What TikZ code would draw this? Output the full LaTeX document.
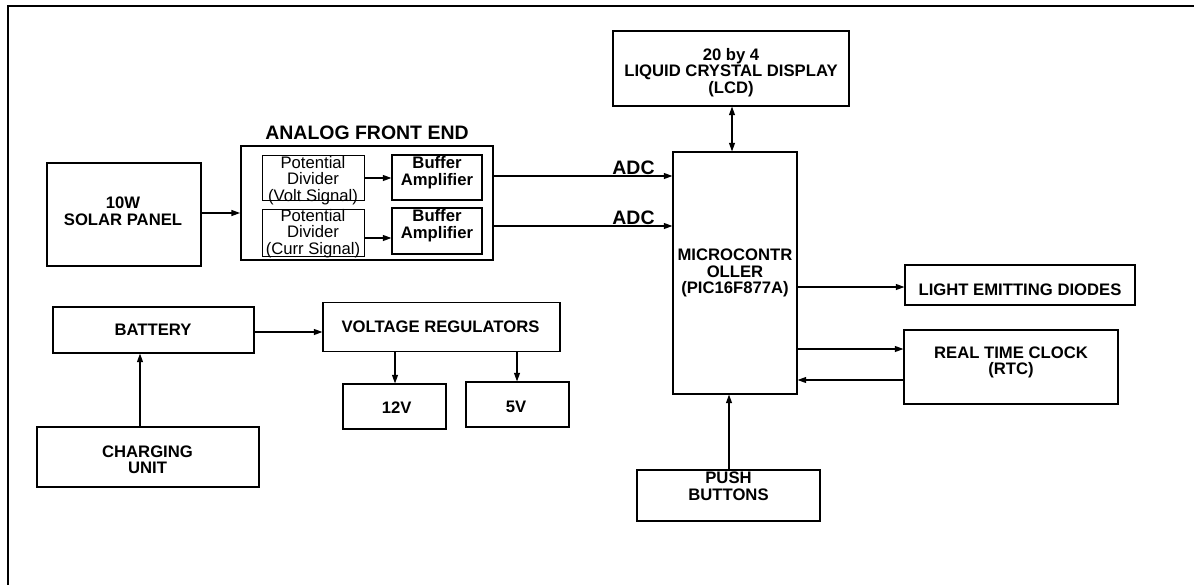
\documentclass[tikz,border=0pt]{standalone}
\usepackage{fontspec}
\setmainfont{Liberation Sans}
\usetikzlibrary{arrows.meta}
\tikzset{
  bx/.style={draw, line width=0.85pt, inner sep=0pt},
  sz/.style 2 args={minimum width=#1*0.75pt, minimum height=#2*0.75pt},
  tx/.style={align=center, inner sep=0pt, font=\fontsize{12.5}{12.5}\selectfont\bfseries},
  txr/.style={align=center, inner sep=0pt, font=\fontsize{12.5}{12.6}\selectfont},
  big/.style={font=\fontsize{14.6}{15}\selectfont\bfseries},
  arr/.style={line width=0.9pt, -{Triangle[length=6.5pt,width=4.5pt]}},
  arrb/.style={line width=0.9pt, {Triangle[length=6.5pt,width=4.5pt]}-{Triangle[length=6.5pt,width=4.5pt]}},
}
\begin{document}
\begin{tikzpicture}[x=0.75pt,y=-0.75pt]
\useasboundingbox (0,0) rectangle (1194,585);
\draw[line width=2pt] (1194,6) -- (8,6) -- (8,585);

% solar panel
\node[bx,sz={154}{103}] (solar) at (124,214.5) {};
\node[tx] (solarT) at (123,211) {10W\\SOLAR PANEL};

% analog front end
\node[bx,line width=1.4pt,sz={252}{114}] (afe) at (367,203) {};
\node[tx,big] (afeT) at (367,133) {ANALOG FRONT END};
\node[bx,line width=0.6pt,sz={102}{45}] (pd1) at (313,177.5) {};
\node[txr] (pd1T) at (313,180.5) {Potential\\Divider\\(Volt Signal)};
\node[bx,line width=0.6pt,sz={102}{47}] (pd2) at (313,232.5) {};
\node[txr] (pd2T) at (313,233.5) {Potential\\Divider\\(Curr Signal)};
\node[bx,sz={90}{45}] (ba1) at (437,177.5) {};
\node[tx] (ba1T) at (437,172.5) {Buffer\\Amplifier};
\node[bx,sz={90}{46}] (ba2) at (437,231) {};
\node[tx] (ba2T) at (437,225.5) {Buffer\\Amplifier};

% microcontroller and peripherals
\node[bx,sz={124}{242}] (mcu) at (735,273) {};
\node[tx] (mcuT) at (735,273) {MICROCONTR\\OLLER\\(PIC16F877A)};
\node[bx,sz={236}{75}] (lcd) at (731,68.5) {};
\node[tx] (lcdT) at (731,72.5) {20 by 4\\LIQUID CRYSTAL DISPLAY\\(LCD)};
\node[bx,sz={230}{40}] (led) at (1020,285) {};
\node[tx] (ledT) at (1020,290) {LIGHT EMITTING DIODES};
\node[bx,sz={214}{74}] (rtc) at (1011,367) {};
\node[tx] (rtcT) at (1011,362.5) {REAL TIME CLOCK\\(RTC)};
\node[bx,sz={183}{51}] (push) at (728.5,495.5) {};
\node[tx] (pushT) at (728.5,486) {PUSH\\BUTTONS};

% power
\node[bx,sz={201}{46}] (bat) at (153.5,330) {};
\node[tx] (batT) at (153,330) {BATTERY};
\node[bx,sz={222}{60}] (chg) at (148,457) {};
\node[tx] (chgT) at (147.5,459.7) {CHARGING\\UNIT};
\node[bx,sz={237}{49}] (vr) at (441.5,327.2) {};
\node[tx] (vrT) at (440.5,326.7) {VOLTAGE REGULATORS};
\node[bx,sz={103}{45}] (v12) at (394.5,406.5) {};
\node[tx] (v12T) at (396.7,408) {12V};
\node[bx,sz={103}{45}] (v5) at (517.5,404.5) {};
\node[tx] (v5T) at (516,406.7) {5V};

% labels
\node[tx,big] (adc1) at (633.5,168) {ADC};
\node[tx,big] (adc2) at (633.5,217.7) {ADC};

% connectors
\draw[arr] (solar.east |- 0,213) -- (afe.west |- 0,213);
\draw[arr] (pd1.east |- 0,178) -- (ba1.west |- 0,178);
\draw[arr] (pd2.east |- 0,238) -- (ba2.west |- 0,238);
\draw[arr] (afe.east |- 0,176) -- (mcu.west |- 0,176);
\draw[arr] (afe.east |- 0,226) -- (mcu.west |- 0,226);
\draw[arrb] (lcd.south -| 732,0) -- (mcu.north -| 732,0);
\draw[arr] (mcu.east |- 0,287) -- (led.west |- 0,287);
\draw[arr] (mcu.east |- 0,349) -- (rtc.west |- 0,349);
\draw[arr] (rtc.west |- 0,380) -- (mcu.east |- 0,380);
\draw[arr] (push.north -| 729,0) -- (mcu.south -| 729,0);
\draw[arr] (chg.north -| 140,0) -- (bat.south -| 140,0);
\draw[arr] (bat.east |- 0,332) -- (vr.west |- 0,332);
\draw[arr] (vr.south -| 395,0) -- (v12.north -| 395,0);
\draw[arr] (vr.south -| 517,0) -- (v5.north -| 517,0);
\end{tikzpicture}
\end{document}
